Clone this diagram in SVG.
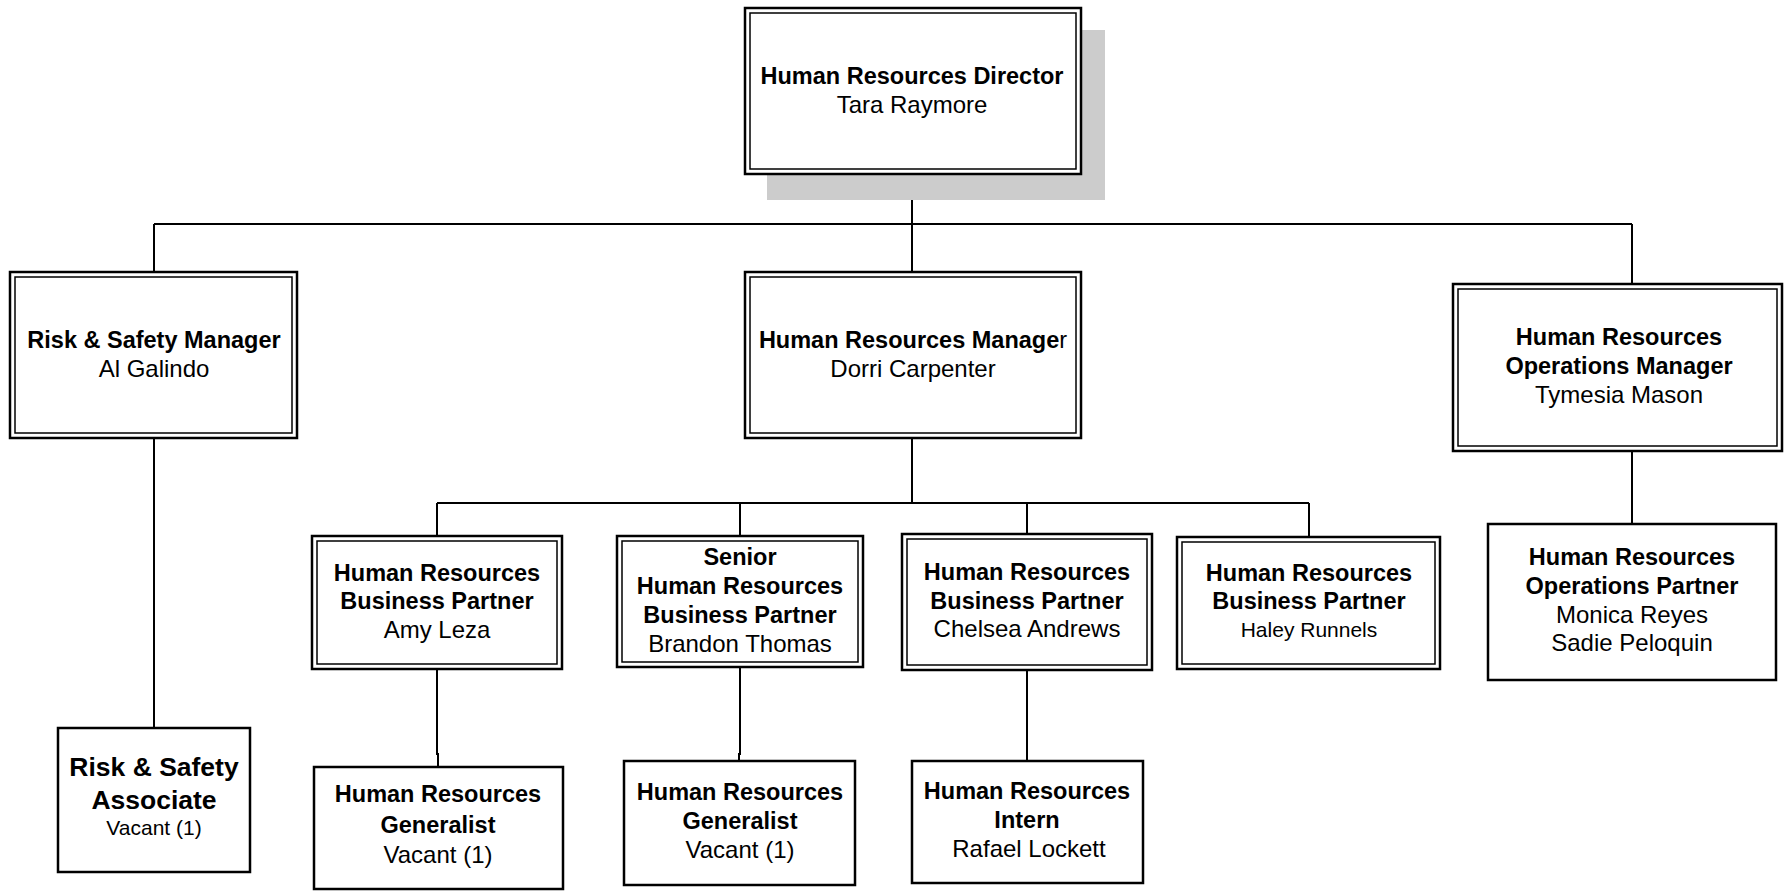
<svg xmlns="http://www.w3.org/2000/svg" width="1784" height="891" viewBox="0 0 1784 891">
<style>
.o{fill:#fff;stroke:#000;stroke-width:2.5}
.i{fill:none;stroke:#000;stroke-width:1.5}
.s{fill:#fff;stroke:#000;stroke-width:2.5}
.c{fill:none;stroke:#000;stroke-width:2}
text{font-family:"Liberation Sans",Arial,Helvetica,sans-serif;text-anchor:middle;fill:#000}
.b{font-weight:bold;font-size:23.5px}
.r{font-size:24px}
</style>
<rect width="1784" height="891" fill="#fff"/>
<g id="connectors">
<path class="c" d="M912,175 V224 M154,224 H1632 M154,224 V272 M912,224 V272 M1632,224 V284"/>
<path class="c" d="M154,438 V728"/>
<path class="c" d="M912,438 V503 M437,503 H1309 M437,503 V536 M740,503 V536 M1027,503 V534 M1309,503 V537"/>
<path class="c" d="M437,669 V754 H438 V767"/>
<path class="c" d="M740,667 V754 H739 V761"/>
<path class="c" d="M1027,670 V761"/>
<path class="c" d="M1632,451 V524"/>
</g>
<g id="director">
<rect x="767" y="30" width="338" height="170" fill="#cccccc"/>
<rect class="o" x="745" y="8" width="336" height="166"/>
<rect class="i" x="750" y="13" width="326" height="156"/>
<text x="912" y="84" class="b">Human Resources Director</text>
<text x="912" y="113" class="r">Tara Raymore</text>
</g>
<g id="risk-manager">
<rect class="o" x="10" y="272" width="287" height="166"/>
<rect class="i" x="15" y="277" width="277" height="156"/>
<text x="154" y="347.5" class="b">Risk &amp; Safety Manager</text>
<text x="154" y="376.5" class="r">Al Galindo</text>
</g>
<g id="hr-manager">
<rect class="o" x="745" y="272" width="336" height="166"/>
<rect class="i" x="750" y="277" width="326" height="156"/>
<text x="913" y="347.5" class="b">Human Resources Manage<tspan font-weight="normal">r</tspan></text>
<text x="913" y="376.5" class="r">Dorri Carpenter</text>
</g>
<g id="ops-manager">
<rect class="o" x="1453" y="284" width="329" height="167"/>
<rect class="i" x="1458" y="289" width="319" height="157"/>
<text x="1619" y="345" class="b">Human Resources</text>
<text x="1619" y="374" class="b">Operations Manager</text>
<text x="1619" y="403" class="r">Tymesia Mason</text>
</g>
<g id="hrbp-amy">
<rect class="o" x="312" y="536" width="250" height="133"/>
<rect class="i" x="317" y="541" width="240" height="123"/>
<text x="437" y="581" class="b">Human Resources</text>
<text x="437" y="609" class="b">Business Partner</text>
<text x="437" y="638" class="r">Amy Leza</text>
</g>
<g id="hrbp-senior">
<rect class="o" x="617" y="536" width="246" height="131"/>
<rect class="i" x="622" y="541" width="236" height="121"/>
<text x="740" y="565" class="b">Senior</text>
<text x="740" y="594" class="b">Human Resources</text>
<text x="740" y="623" class="b">Business Partner</text>
<text x="740" y="652" class="r">Brandon Thomas</text>
</g>
<g id="hrbp-chelsea">
<rect class="o" x="902" y="534" width="250" height="136"/>
<rect class="i" x="907" y="539" width="240" height="126"/>
<text x="1027" y="580" class="b">Human Resources</text>
<text x="1027" y="608.5" class="b">Business Partner</text>
<text x="1027" y="637" class="r">Chelsea Andrews</text>
</g>
<g id="hrbp-haley">
<rect class="o" x="1177" y="537" width="263" height="132"/>
<rect class="i" x="1182" y="542" width="253" height="122"/>
<text x="1309" y="581" class="b">Human Resources</text>
<text x="1309" y="609" class="b">Business Partner</text>
<text x="1309" y="637" style="font-size:21px">Haley Runnels</text>
</g>
<g id="ops-partner">
<rect class="s" x="1488" y="524" width="288" height="156"/>
<text x="1632" y="565" class="b">Human Resources</text>
<text x="1632" y="594" class="b">Operations Partner</text>
<text x="1632" y="623" class="r">Monica Reyes</text>
<text x="1632" y="651" class="r">Sadie Peloquin</text>
</g>
<g id="risk-associate">
<rect class="s" x="58" y="728" width="192" height="144"/>
<text x="154" y="776" style="font-weight:bold;font-size:26.5px">Risk &amp; Safety</text>
<text x="154" y="809" style="font-weight:bold;font-size:26.5px">Associate</text>
<text x="154" y="835" style="font-size:21px">Vacant (1)</text>
</g>
<g id="generalist-1">
<rect class="s" x="314" y="767" width="249" height="122"/>
<text x="438" y="802" class="b">Human Resources</text>
<text x="438" y="833" class="b">Generalist</text>
<text x="438" y="863" class="r">Vacant (1)</text>
</g>
<g id="generalist-2">
<rect class="s" x="624" y="761" width="231" height="124"/>
<text x="740" y="800" class="b">Human Resources</text>
<text x="740" y="829" class="b">Generalist</text>
<text x="740" y="858" class="r">Vacant (1)</text>
</g>
<g id="intern">
<rect class="s" x="912" y="761" width="231" height="122"/>
<text x="1027" y="799" class="b">Human Resources</text>
<text x="1027" y="828" class="b">Intern</text>
<text x="1029" y="857" class="r">Rafael Lockett</text>
</g>
</svg>
